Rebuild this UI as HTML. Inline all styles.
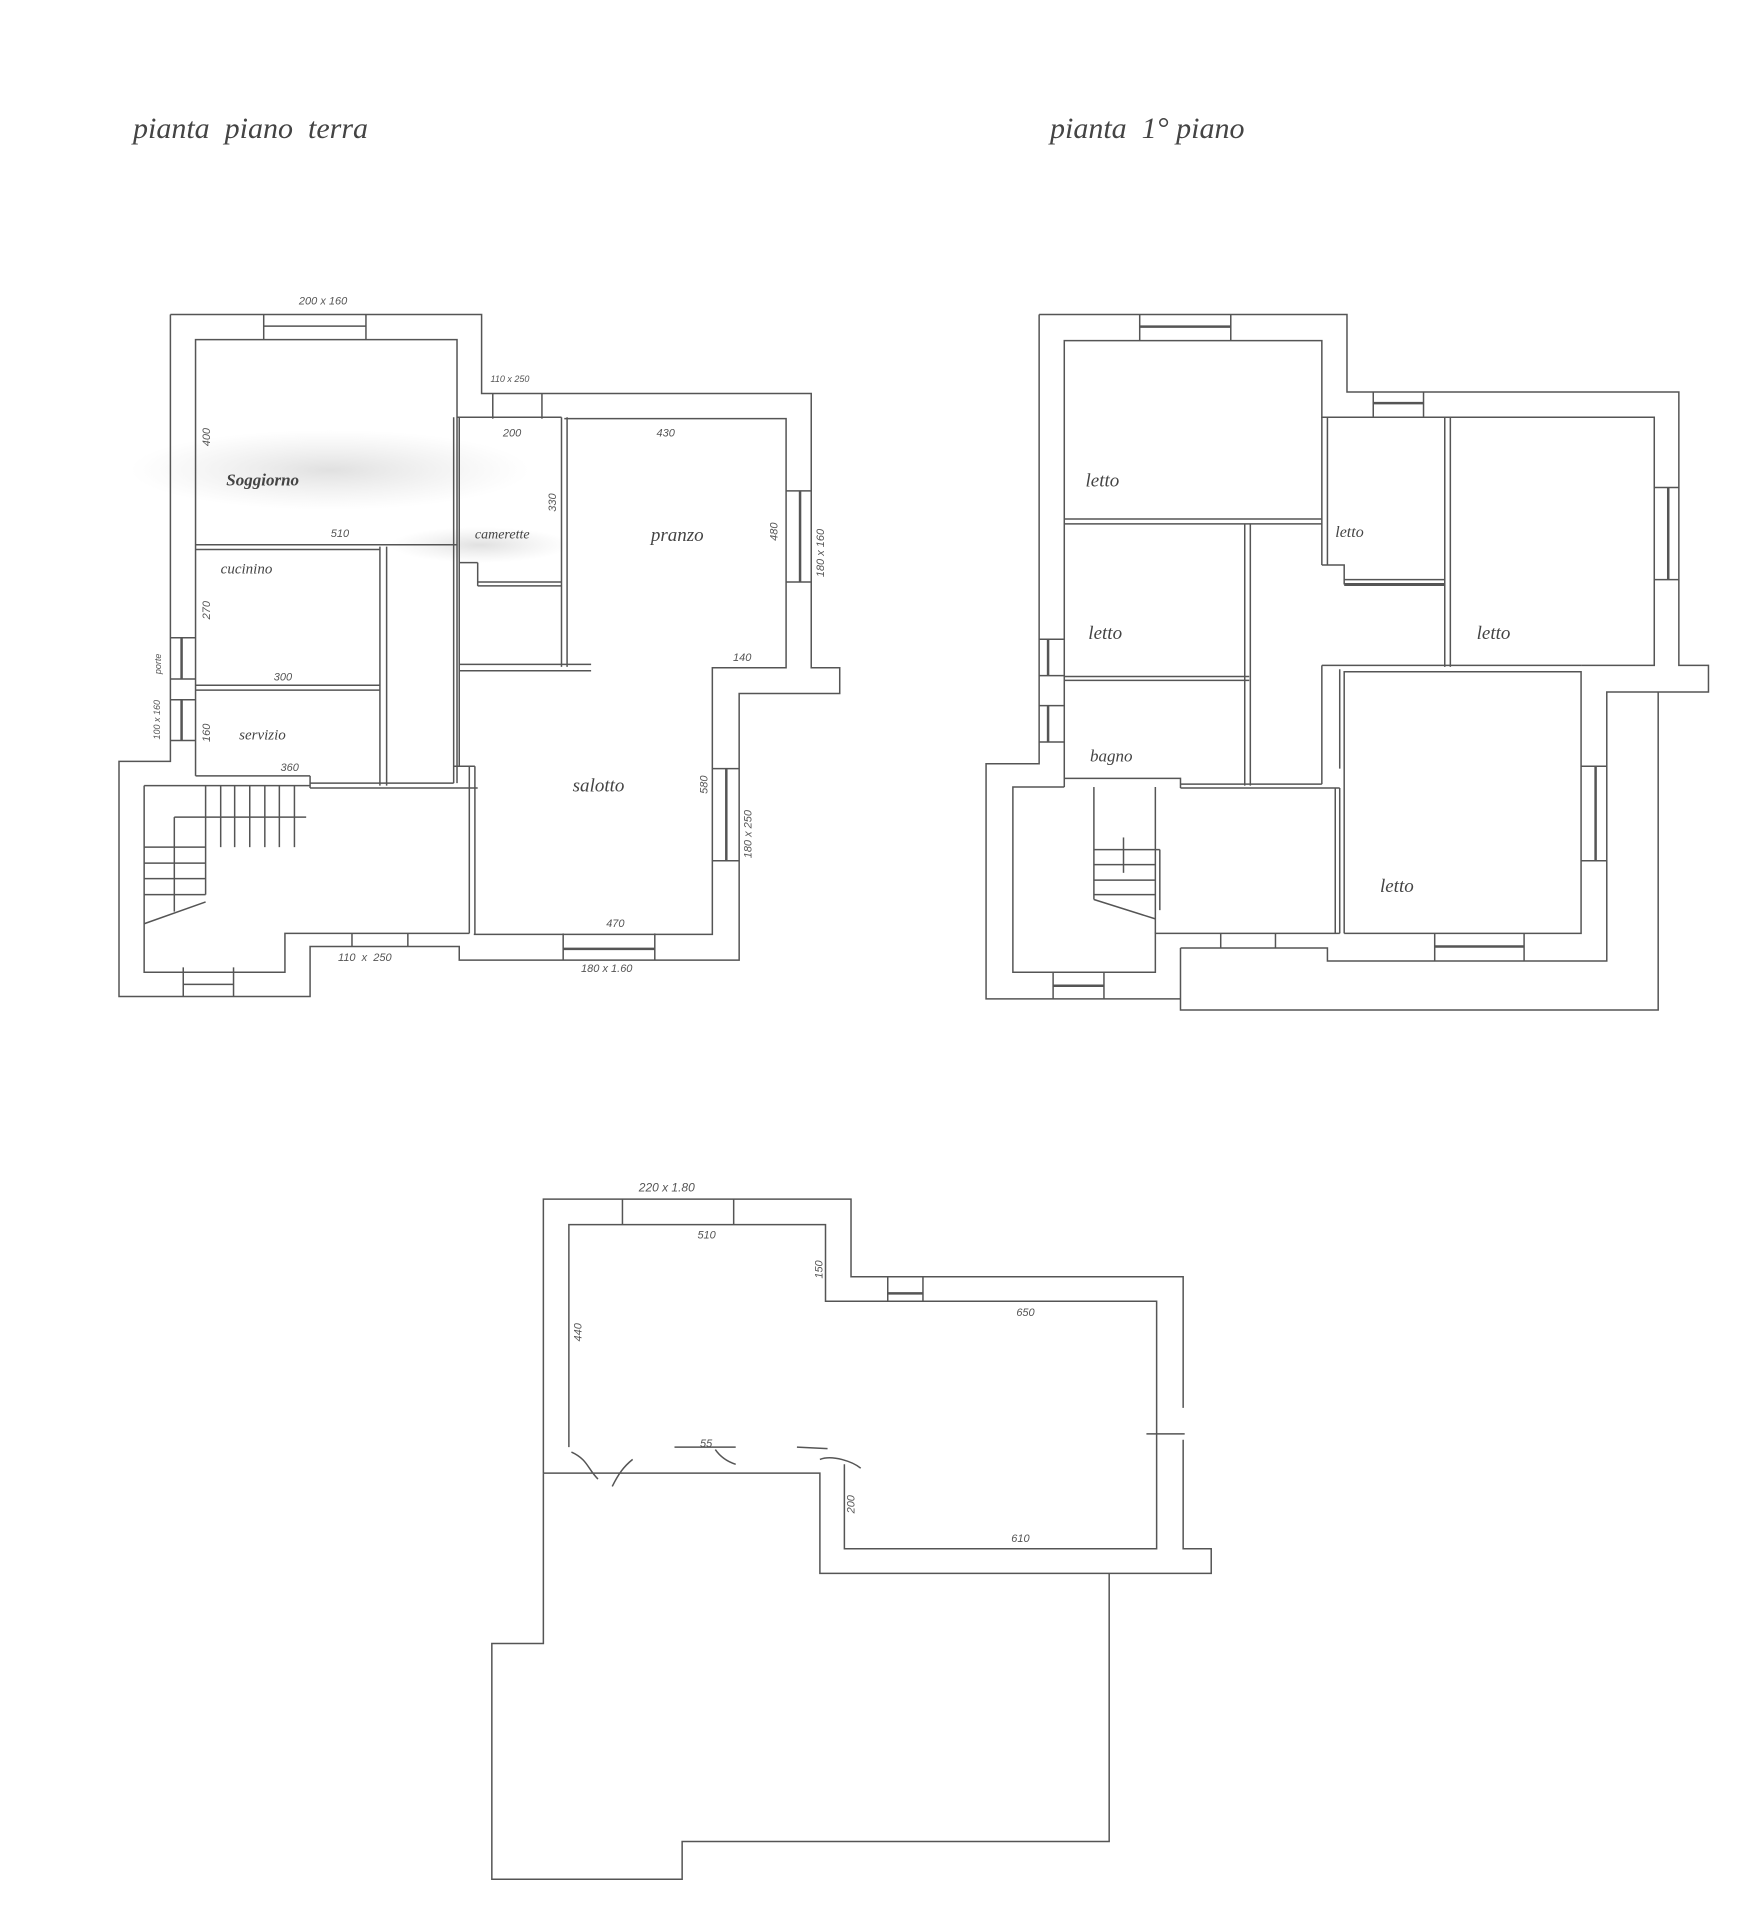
<!DOCTYPE html>
<html><head><meta charset="utf-8"><style>
html,body{margin:0;padding:0;background:#fff}
svg{display:block}
text{font-family:"Liberation Serif",serif;font-style:italic;fill:#444}
.d{font-family:"Liberation Sans",sans-serif;font-style:italic;font-size:11px;fill:#555}
.r{font-size:19px}
</style></head><body>
<svg width="1752" height="1920" viewBox="0 0 1752 1920" xmlns="http://www.w3.org/2000/svg">
<defs><radialGradient id="sm"><stop offset="0" stop-color="#bbb" stop-opacity="0.45"/><stop offset="1" stop-color="#ccc" stop-opacity="0"/></radialGradient></defs>
<ellipse cx="330" cy="470" rx="200" ry="40" fill="url(#sm)"/>
<ellipse cx="480" cy="545" rx="90" ry="18" fill="url(#sm)"/>
<text x="133" y="138" style="font-size:30px">pianta &#160;piano &#160;terra</text>
<text x="1050" y="138" style="font-size:30px">pianta &#160;1° piano</text>

<!-- GROUND FLOOR -->
<g transform="translate(0,250) scale(0.5587,0.4847)" fill="none" stroke="#555" stroke-width="1.5" style="vector-effect:non-scaling-stroke">
<g style="vector-effect:non-scaling-stroke">
<polyline vector-effect="non-scaling-stroke" points="305,133 862,133 862,296 1452,296 1452,862 1503,862 1503,915 1323,915 1323,1465 822,1465 822,1437 555,1437 555,1540 213,1540 213,1055 305,1055 305,133"/>
<polyline vector-effect="non-scaling-stroke" points="350,1085 350,185 818,185 818,1100"/>
<polyline vector-effect="non-scaling-stroke" points="1010,348 1407,348 1407,862 1275,862 1275,1412 848,1412"/>
<line vector-effect="non-scaling-stroke" x1="818" y1="345" x2="1005" y2="345"/>
<line vector-effect="non-scaling-stroke" x1="350" y1="608" x2="818" y2="608"/>
<line vector-effect="non-scaling-stroke" x1="350" y1="618" x2="680" y2="618"/>
<line vector-effect="non-scaling-stroke" x1="680" y1="612" x2="680" y2="1105"/>
<line vector-effect="non-scaling-stroke" x1="692" y1="612" x2="692" y2="1105"/>
<line vector-effect="non-scaling-stroke" x1="350" y1="898" x2="680" y2="898"/>
<line vector-effect="non-scaling-stroke" x1="350" y1="908" x2="680" y2="908"/>
<line vector-effect="non-scaling-stroke" x1="350" y1="1085" x2="555" y2="1085"/>
<line vector-effect="non-scaling-stroke" x1="555" y1="1085" x2="555" y2="1110"/>
<line vector-effect="non-scaling-stroke" x1="555" y1="1100" x2="812" y2="1100"/>
<line vector-effect="non-scaling-stroke" x1="555" y1="1110" x2="855" y2="1110"/>
<line vector-effect="non-scaling-stroke" x1="258" y1="1105" x2="555" y2="1105"/>
<line vector-effect="non-scaling-stroke" x1="812" y1="345" x2="812" y2="1100"/>
<line vector-effect="non-scaling-stroke" x1="822" y1="345" x2="822" y2="1065"/>
<line vector-effect="non-scaling-stroke" x1="1005" y1="345" x2="1005" y2="860"/>
<line vector-effect="non-scaling-stroke" x1="1015" y1="345" x2="1015" y2="860"/>
<line vector-effect="non-scaling-stroke" x1="855" y1="685" x2="1005" y2="685"/>
<line vector-effect="non-scaling-stroke" x1="855" y1="693" x2="1005" y2="693"/>
<line vector-effect="non-scaling-stroke" x1="822" y1="645" x2="855" y2="645"/>
<line vector-effect="non-scaling-stroke" x1="855" y1="645" x2="855" y2="693"/>
<line vector-effect="non-scaling-stroke" x1="822" y1="855" x2="1058" y2="855"/>
<line vector-effect="non-scaling-stroke" x1="822" y1="868" x2="1058" y2="868"/>
<line vector-effect="non-scaling-stroke" x1="812" y1="1065" x2="850" y2="1065"/>
<line vector-effect="non-scaling-stroke" x1="840" y1="1065" x2="840" y2="1410"/>
<line vector-effect="non-scaling-stroke" x1="850" y1="1065" x2="850" y2="1412"/>
<polyline vector-effect="non-scaling-stroke" points="258,1105 258,1490 510,1490 510,1410 840,1410"/>
<!-- windows -->
<line vector-effect="non-scaling-stroke" x1="472" y1="133" x2="472" y2="185"/>
<line vector-effect="non-scaling-stroke" x1="655" y1="133" x2="655" y2="185"/>
<line vector-effect="non-scaling-stroke" x1="472" y1="157" x2="655" y2="157"/>
<line vector-effect="non-scaling-stroke" x1="882" y1="296" x2="882" y2="348"/>
<line vector-effect="non-scaling-stroke" x1="970" y1="296" x2="970" y2="348"/>
<line vector-effect="non-scaling-stroke" x1="1407" y1="497" x2="1452" y2="497"/>
<line vector-effect="non-scaling-stroke" x1="1407" y1="685" x2="1452" y2="685"/>
<line vector-effect="non-scaling-stroke" x1="1432" y1="497" x2="1432" y2="685" stroke-width="2.5"/>
<line vector-effect="non-scaling-stroke" x1="1275" y1="1070" x2="1323" y2="1070"/>
<line vector-effect="non-scaling-stroke" x1="1275" y1="1260" x2="1323" y2="1260"/>
<line vector-effect="non-scaling-stroke" x1="1300" y1="1070" x2="1300" y2="1260" stroke-width="2.5"/>
<line vector-effect="non-scaling-stroke" x1="1008" y1="1410" x2="1008" y2="1465"/>
<line vector-effect="non-scaling-stroke" x1="1172" y1="1410" x2="1172" y2="1465"/>
<line vector-effect="non-scaling-stroke" x1="1008" y1="1442" x2="1172" y2="1442" stroke-width="2.5"/>
<line vector-effect="non-scaling-stroke" x1="630" y1="1410" x2="630" y2="1437"/>
<line vector-effect="non-scaling-stroke" x1="730" y1="1410" x2="730" y2="1437"/>
<line vector-effect="non-scaling-stroke" x1="328" y1="1480" x2="328" y2="1540"/>
<line vector-effect="non-scaling-stroke" x1="418" y1="1480" x2="418" y2="1540"/>
<line vector-effect="non-scaling-stroke" x1="328" y1="1515" x2="418" y2="1515"/>
<line vector-effect="non-scaling-stroke" x1="305" y1="800" x2="350" y2="800"/>
<line vector-effect="non-scaling-stroke" x1="305" y1="885" x2="350" y2="885"/>
<line vector-effect="non-scaling-stroke" x1="325" y1="800" x2="325" y2="885" stroke-width="2.5"/>
<line vector-effect="non-scaling-stroke" x1="305" y1="928" x2="350" y2="928"/>
<line vector-effect="non-scaling-stroke" x1="305" y1="1012" x2="350" y2="1012"/>
<line vector-effect="non-scaling-stroke" x1="325" y1="928" x2="325" y2="1012" stroke-width="2.5"/>
<!-- stairs -->
<line vector-effect="non-scaling-stroke" x1="312" y1="1170" x2="548" y2="1170"/>
<line vector-effect="non-scaling-stroke" x1="368" y1="1105" x2="368" y2="1330"/>
<line vector-effect="non-scaling-stroke" x1="395" y1="1105" x2="395" y2="1232"/>
<line vector-effect="non-scaling-stroke" x1="420" y1="1105" x2="420" y2="1232"/>
<line vector-effect="non-scaling-stroke" x1="447" y1="1105" x2="447" y2="1232"/>
<line vector-effect="non-scaling-stroke" x1="474" y1="1105" x2="474" y2="1232"/>
<line vector-effect="non-scaling-stroke" x1="500" y1="1105" x2="500" y2="1232"/>
<line vector-effect="non-scaling-stroke" x1="527" y1="1105" x2="527" y2="1232"/>
<line vector-effect="non-scaling-stroke" x1="312" y1="1170" x2="312" y2="1365"/>
<line vector-effect="non-scaling-stroke" x1="258" y1="1232" x2="368" y2="1232"/>
<line vector-effect="non-scaling-stroke" x1="258" y1="1265" x2="368" y2="1265"/>
<line vector-effect="non-scaling-stroke" x1="258" y1="1297" x2="368" y2="1297"/>
<line vector-effect="non-scaling-stroke" x1="258" y1="1330" x2="368" y2="1330"/>
<line vector-effect="non-scaling-stroke" x1="258" y1="1390" x2="368" y2="1345"/>
</g>
<g stroke="none">
<text class="d" transform="translate(535,112) scale(1.79,2.063)">200 x 160</text>
<text class="d" transform="translate(878,272) scale(1.79,2.063)" style="font-size:9px">110 x 250</text>
<text class="d" transform="translate(900,385) scale(1.79,2.063)">200</text>
<text class="d" transform="translate(1175,385) scale(1.79,2.063)">430</text>
<text class="r" transform="translate(405,486) scale(1.79,2.063)" style="font-weight:bold;font-size:17px">Soggiorno</text>
<text class="d" transform="translate(592,592) scale(1.79,2.063)">510</text>
<text class="r" transform="translate(850,595) scale(1.79,2.063)" style="font-size:14px">camerette</text>
<text class="r" transform="translate(1165,600) scale(1.79,2.063)">pranzo</text>
<text class="d" transform="translate(1392,600) scale(1.79,2.063) rotate(-90)">480</text>
<text class="d" transform="translate(1475,675) scale(1.79,2.063) rotate(-90)">180 x 160</text>
<text class="r" transform="translate(395,667) scale(1.79,2.063)" style="font-size:15px">cucinino</text>
<text class="d" transform="translate(376,762) scale(1.79,2.063) rotate(-90)">270</text>
<text class="d" transform="translate(995,540) scale(1.79,2.063) rotate(-90)">330</text>
<text class="d" transform="translate(376,405) scale(1.79,2.063) rotate(-90)">400</text>
<text class="d" transform="translate(288,875) scale(1.79,2.063) rotate(-90)" style="font-size:9px">porte</text>
<text class="d" transform="translate(286,1010) scale(1.79,2.063) rotate(-90)" style="font-size:9px">100 x 160</text>
<text class="d" transform="translate(490,888) scale(1.79,2.063)">300</text>
<text class="d" transform="translate(376,1015) scale(1.79,2.063) rotate(-90)">160</text>
<text class="r" transform="translate(428,1010) scale(1.79,2.063)" style="font-size:15px">servizio</text>
<text class="d" transform="translate(502,1075) scale(1.79,2.063)">360</text>
<text class="d" transform="translate(1312,848) scale(1.79,2.063)">140</text>
<text class="r" transform="translate(1025,1117) scale(1.79,2.063)">salotto</text>
<text class="d" transform="translate(1266,1122) scale(1.79,2.063) rotate(-90)">580</text>
<text class="d" transform="translate(1345,1255) scale(1.79,2.063) rotate(-90)">180 x 250</text>
<text class="d" transform="translate(1085,1397) scale(1.79,2.063)">470</text>
<text class="d" transform="translate(605,1467) scale(1.79,2.063)">110 &#160;x &#160;250</text>
<text class="d" transform="translate(1040,1490) scale(1.79,2.063)">180 x 1.60</text>
</g>
</g>

<!-- FIRST FLOOR -->
<g transform="translate(876,250) scale(0.5587,0.4847)" fill="none" stroke="#555" stroke-width="1.5">
<polyline vector-effect="non-scaling-stroke" points="292,133 843,133 843,293 1437,293 1437,857 1490,857 1490,912 1308,912 1308,1467 808,1467 808,1440 545,1440"/>
<polyline vector-effect="non-scaling-stroke" points="292,133 292,1060 197,1060 197,1545 545,1545"/>
<polyline vector-effect="non-scaling-stroke" points="545,1440 545,1568 1400,1568 1400,912"/>
<polyline vector-effect="non-scaling-stroke" points="337,1108 337,187 798,187 798,345 1393,345 1393,857 1262,857"/>
<line vector-effect="non-scaling-stroke" x1="337" y1="555" x2="798" y2="555"/>
<line vector-effect="non-scaling-stroke" x1="337" y1="565" x2="798" y2="565"/>
<line vector-effect="non-scaling-stroke" x1="798" y1="345" x2="798" y2="650"/>
<line vector-effect="non-scaling-stroke" x1="808" y1="345" x2="808" y2="650"/>
<polyline vector-effect="non-scaling-stroke" points="798,650 838,650 838,690"/>
<line vector-effect="non-scaling-stroke" x1="838" y1="680" x2="1018" y2="680"/>
<line vector-effect="non-scaling-stroke" x1="838" y1="690" x2="1018" y2="690" stroke-width="3"/>
<line vector-effect="non-scaling-stroke" x1="1018" y1="345" x2="1018" y2="860"/>
<line vector-effect="non-scaling-stroke" x1="1028" y1="345" x2="1028" y2="860"/>
<line vector-effect="non-scaling-stroke" x1="660" y1="565" x2="660" y2="1105"/>
<line vector-effect="non-scaling-stroke" x1="670" y1="565" x2="670" y2="1105"/>
<line vector-effect="non-scaling-stroke" x1="337" y1="880" x2="668" y2="880"/>
<line vector-effect="non-scaling-stroke" x1="337" y1="888" x2="668" y2="888"/>
<polyline vector-effect="non-scaling-stroke" points="337,1090 545,1090 545,1110"/>
<line vector-effect="non-scaling-stroke" x1="545" y1="1102" x2="798" y2="1102"/>
<line vector-effect="non-scaling-stroke" x1="545" y1="1110" x2="830" y2="1110"/>
<line vector-effect="non-scaling-stroke" x1="798" y1="857" x2="1262" y2="857"/>
<line vector-effect="non-scaling-stroke" x1="798" y1="857" x2="798" y2="1102"/>
<line vector-effect="non-scaling-stroke" x1="830" y1="865" x2="830" y2="1070"/>
<polyline vector-effect="non-scaling-stroke" points="838,1410 838,870 1262,870 1262,1410 838,1410"/>
<line vector-effect="non-scaling-stroke" x1="822" y1="1110" x2="822" y2="1410"/>
<line vector-effect="non-scaling-stroke" x1="830" y1="1110" x2="830" y2="1410"/>
<polyline vector-effect="non-scaling-stroke" points="337,1108 245,1108 245,1490 500,1490 500,1410 830,1410"/>
<line vector-effect="non-scaling-stroke" x1="390" y1="1108" x2="390" y2="1340"/>
<line vector-effect="non-scaling-stroke" x1="500" y1="1108" x2="500" y2="1410"/>
<line vector-effect="non-scaling-stroke" x1="390" y1="1237" x2="508" y2="1237"/>
<line vector-effect="non-scaling-stroke" x1="390" y1="1268" x2="500" y2="1268"/>
<line vector-effect="non-scaling-stroke" x1="390" y1="1300" x2="500" y2="1300"/>
<line vector-effect="non-scaling-stroke" x1="390" y1="1330" x2="500" y2="1330"/>
<line vector-effect="non-scaling-stroke" x1="508" y1="1237" x2="508" y2="1362"/>
<line vector-effect="non-scaling-stroke" x1="390" y1="1340" x2="500" y2="1380"/>
<line vector-effect="non-scaling-stroke" x1="443" y1="1212" x2="443" y2="1285"/>
<!-- windows -->
<line vector-effect="non-scaling-stroke" x1="472" y1="133" x2="472" y2="187"/>
<line vector-effect="non-scaling-stroke" x1="635" y1="133" x2="635" y2="187"/>
<line vector-effect="non-scaling-stroke" x1="472" y1="158" x2="635" y2="158" stroke-width="2.5"/>
<line vector-effect="non-scaling-stroke" x1="890" y1="293" x2="890" y2="345"/>
<line vector-effect="non-scaling-stroke" x1="980" y1="293" x2="980" y2="345"/>
<line vector-effect="non-scaling-stroke" x1="890" y1="316" x2="980" y2="316" stroke-width="2.5"/>
<line vector-effect="non-scaling-stroke" x1="1393" y1="490" x2="1437" y2="490"/>
<line vector-effect="non-scaling-stroke" x1="1393" y1="680" x2="1437" y2="680"/>
<line vector-effect="non-scaling-stroke" x1="1418" y1="490" x2="1418" y2="680" stroke-width="2.5"/>
<line vector-effect="non-scaling-stroke" x1="1262" y1="1065" x2="1308" y2="1065"/>
<line vector-effect="non-scaling-stroke" x1="1262" y1="1260" x2="1308" y2="1260"/>
<line vector-effect="non-scaling-stroke" x1="1288" y1="1065" x2="1288" y2="1260" stroke-width="2.5"/>
<line vector-effect="non-scaling-stroke" x1="1000" y1="1410" x2="1000" y2="1467"/>
<line vector-effect="non-scaling-stroke" x1="1160" y1="1410" x2="1160" y2="1467"/>
<line vector-effect="non-scaling-stroke" x1="1000" y1="1437" x2="1160" y2="1437" stroke-width="2.5"/>
<line vector-effect="non-scaling-stroke" x1="617" y1="1410" x2="617" y2="1440"/>
<line vector-effect="non-scaling-stroke" x1="715" y1="1410" x2="715" y2="1440"/>
<line vector-effect="non-scaling-stroke" x1="317" y1="1490" x2="317" y2="1545"/>
<line vector-effect="non-scaling-stroke" x1="408" y1="1490" x2="408" y2="1545"/>
<line vector-effect="non-scaling-stroke" x1="317" y1="1518" x2="408" y2="1518" stroke-width="2.5"/>
<line vector-effect="non-scaling-stroke" x1="292" y1="803" x2="337" y2="803"/>
<line vector-effect="non-scaling-stroke" x1="292" y1="878" x2="337" y2="878"/>
<line vector-effect="non-scaling-stroke" x1="308" y1="803" x2="308" y2="878" stroke-width="2.5"/>
<line vector-effect="non-scaling-stroke" x1="292" y1="940" x2="337" y2="940"/>
<line vector-effect="non-scaling-stroke" x1="292" y1="1015" x2="337" y2="1015"/>
<line vector-effect="non-scaling-stroke" x1="308" y1="940" x2="308" y2="1015" stroke-width="2.5"/>
<g stroke="none">
<text class="r" transform="translate(375,488) scale(1.79,2.063)">letto</text>
<text class="r" transform="translate(822,592) scale(1.79,2.063)" style="font-size:16px">letto</text>
<text class="r" transform="translate(380,803) scale(1.79,2.063)">letto</text>
<text class="r" transform="translate(1075,803) scale(1.79,2.063)">letto</text>
<text class="r" transform="translate(383,1055) scale(1.79,2.063)" style="font-size:17px">bagno</text>
<text class="r" transform="translate(902,1325) scale(1.79,2.063)">letto</text>
</g>
</g>

<!-- ROOF / THIRD PLAN -->
<g transform="translate(450,1150) scale(0.5102,0.4911)" fill="none" stroke="#555" stroke-width="1.5">
<polyline vector-effect="non-scaling-stroke" points="183,658 183,100 786,100 786,258 1437,258 1437,525"/>
<polyline vector-effect="non-scaling-stroke" points="1437,590 1437,812 1492,812 1492,862 725,862 725,658 183,658"/>
<polyline vector-effect="non-scaling-stroke" points="183,658 183,1005 82,1005 82,1485 455,1485 455,1408 1292,1408 1292,862"/>
<polyline vector-effect="non-scaling-stroke" points="233,605 233,152 736,152 736,308 1385,308 1385,812 773,812 773,640"/>
<line vector-effect="non-scaling-stroke" x1="440" y1="605" x2="560" y2="605"/>
<line vector-effect="non-scaling-stroke" x1="680" y1="605" x2="740" y2="608"/>
<line vector-effect="non-scaling-stroke" x1="1365" y1="578" x2="1440" y2="578"/>
<line vector-effect="non-scaling-stroke" x1="338" y1="100" x2="338" y2="152"/>
<line vector-effect="non-scaling-stroke" x1="556" y1="100" x2="556" y2="152"/>
<line vector-effect="non-scaling-stroke" x1="858" y1="258" x2="858" y2="308"/>
<line vector-effect="non-scaling-stroke" x1="927" y1="258" x2="927" y2="308"/>
<line vector-effect="non-scaling-stroke" x1="858" y1="292" x2="927" y2="292" stroke-width="2.5"/>
<path vector-effect="non-scaling-stroke" d="M238,615 C270,630 270,650 290,670 M358,630 C340,645 330,660 318,685 M520,610 C530,625 545,635 560,640 M725,630 C750,620 790,635 805,648"/>
<g stroke="none">
<text class="d" transform="translate(370,85) scale(1.96,2.036)" style="font-size:12px">220 x 1.80</text>
<text class="d" transform="translate(485,180) scale(1.96,2.036)">510</text>
<text class="d" transform="translate(730,262) scale(1.96,2.036) rotate(-90)">150</text>
<text class="d" transform="translate(1110,338) scale(1.96,2.036)">650</text>
<text class="d" transform="translate(258,390) scale(1.96,2.036) rotate(-90)">440</text>
<text class="d" transform="translate(793,740) scale(1.96,2.036) rotate(-90)">200</text>
<text class="d" transform="translate(1100,798) scale(1.96,2.036)">610</text>
<text class="d" transform="translate(490,605) scale(1.96,2.036)">55</text>
</g>
</g>
</svg>
</body></html>
